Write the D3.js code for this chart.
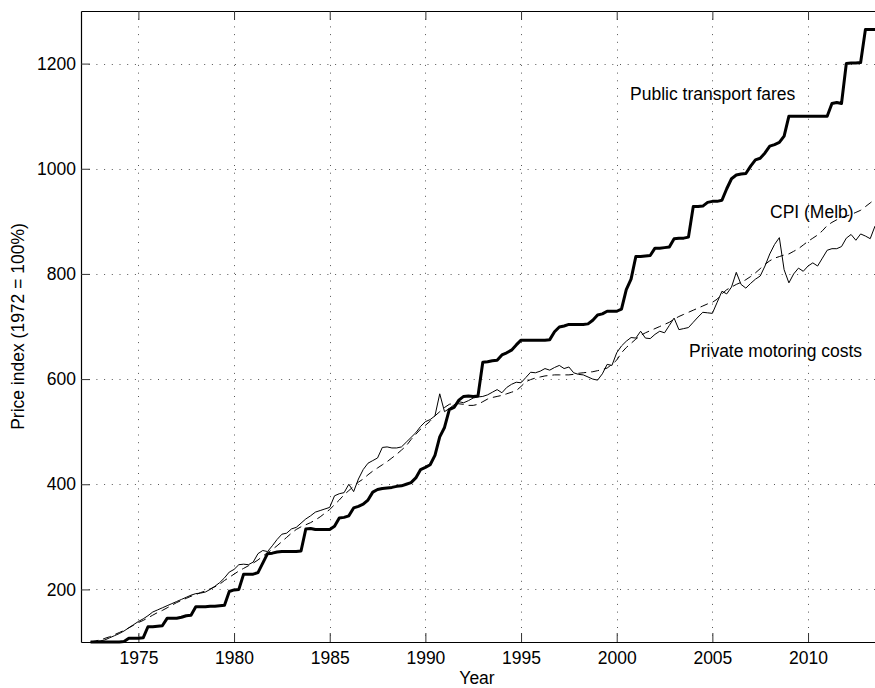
<!DOCTYPE html>
<html>
<head>
<meta charset="utf-8">
<script src="https://cdn.jsdelivr.net/npm/d3@7"></script>
<style>
  body { margin: 0; background: #fff; }
  text { font-family: "Liberation Sans", Arial, Helvetica, sans-serif; }
</style>
</head>
<body>
<div id="chart"></div>
<script>
// quarterly index values, 1972 = 100, from 1972.50 to 2013.50
var startYear = 1972.5;
var quarters = d3.range(0, 165).map(i => startYear + i * 0.25);

var publicFares = [
  100, 100,
  100, 100, 100, 100,
  100, 101, 107, 107,
  107, 108, 129, 129,
  130, 131, 145, 145,
  145, 147, 150, 151,
  167, 167, 167, 168,
  168, 169, 170, 196,
  199, 200, 229, 229,
  229, 232, 250, 268,
  269, 271, 272, 272,
  272, 272, 273, 315,
  316, 314, 314, 314,
  314, 320, 336, 337,
  340, 355, 358, 362,
  370, 385, 390, 392,
  393, 394, 396, 397,
  400, 403, 412, 428,
  432, 437, 455, 490,
  508, 542, 546, 560,
  567, 568, 567, 568,
  632, 633, 635, 636,
  646, 650, 655, 665,
  674, 674, 674, 674,
  674, 674, 675, 690,
  699, 701, 704, 704,
  704, 704, 705, 712,
  722, 724, 729, 729,
  729, 733, 770, 790,
  833, 833, 834, 835,
  849, 849, 850, 851,
  867, 868, 868, 870,
  928, 928, 929, 936,
  938, 938, 940, 962,
  981, 988, 990, 991,
  1005, 1017, 1020, 1030,
  1043, 1046, 1050, 1062,
  1100, 1100, 1100, 1100,
  1100, 1100, 1100, 1100,
  1100, 1124, 1126, 1124,
  1200, 1201, 1201, 1202,
  1265, 1265, 1265
];

var cpiMelb = [
  100, 102,
  104, 107, 110, 114,
  118, 122, 127, 132,
  137, 141, 146, 151,
  156, 160, 165, 170,
  175, 179, 183, 187,
  190, 194, 197, 201,
  205, 210, 217, 223,
  229, 235, 240, 245,
  250, 256, 263, 270,
  276, 283, 291, 299,
  307, 314, 319, 323,
  327, 332, 338, 345,
  352, 361, 370, 380,
  388, 396, 404, 410,
  418, 425, 431, 437,
  443, 450, 457, 465,
  473, 485, 495, 505,
  512, 520, 530, 538,
  546, 552, 554, 553,
  552, 550, 550, 552,
  557, 562, 565, 567,
  569, 572, 575, 578,
  586, 595, 599, 602,
  604, 606, 607, 608,
  608, 608, 608, 609,
  611, 612, 613, 614,
  616, 618, 621, 628,
  636, 650, 660, 668,
  676, 683, 688, 692,
  696, 700, 704, 708,
  714, 719, 723, 727,
  731, 735, 739, 743,
  746, 752, 762, 770,
  775, 780, 784, 789,
  795, 802, 810, 818,
  825, 830, 833, 836,
  838, 843, 848, 855,
  862, 868, 874, 882,
  892, 898, 903, 907,
  910, 913, 917, 921,
  928, 935, 942
];

var privateMotoring = [
  100, 101,
  102, 104, 108, 112,
  116, 121, 127, 133,
  139, 144, 150, 157,
  161, 165, 169, 173,
  177, 181, 185, 189,
  192, 193, 195, 200,
  206, 213, 222, 233,
  238, 247, 248, 247,
  252, 268, 274, 272,
  283, 295, 305, 307,
  315, 318, 326, 334,
  340, 347, 350, 353,
  356, 378, 382, 384,
  400, 386, 410, 428,
  440, 445, 450, 470,
  471, 469, 469, 471,
  480, 489, 498, 510,
  519, 523, 530, 572,
  538, 544, 551, 557,
  555, 559, 564, 566,
  567, 570, 575, 580,
  574, 584, 590, 594,
  593, 603, 613, 612,
  615, 620, 617, 622,
  626, 620, 623, 612,
  609, 608, 604, 600,
  598, 610, 628, 626,
  650, 663, 672, 679,
  678, 691, 678, 677,
  685, 691, 688, 702,
  716, 694, 696, 698,
  708, 718, 727, 726,
  725, 746, 767, 762,
  775, 803, 780, 773,
  782, 790, 796, 815,
  838, 856, 869, 808,
  783, 800, 811, 805,
  815, 821, 815, 830,
  845, 848, 848, 852,
  868, 875, 864, 876,
  872, 867, 891
];

var xTicks = [1975, 1980, 1985, 1990, 1995, 2000, 2005, 2010];
var yTicks = [200, 400, 600, 800, 1000, 1200];

var svgWidth = 875;
var svgHeight = 688;

var margin = { top: 11, right: 0, bottom: 46, left: 81 };
var width = svgWidth - margin.left - margin.right;
var height = svgHeight - margin.top - margin.bottom;

var svg = d3.select("#chart")
  .append("svg")
  .attr("width", svgWidth)
  .attr("height", svgHeight);

var chartGroup = svg.append("g")
  .attr("transform", `translate(${margin.left}, ${margin.top})`);

var xScale = d3.scaleLinear()
  .domain([1972, 2013.5])
  .range([0, width]);

var yScale = d3.scaleLinear()
  .domain([100, 1300])
  .range([height, 0]);

// dotted grid
chartGroup.append("g")
  .selectAll("line")
  .data(xTicks)
  .enter()
  .append("line")
  .attr("x1", d => Math.round(xScale(d)) + 0.5)
  .attr("x2", d => Math.round(xScale(d)) + 0.5)
  .attr("y1", 0)
  .attr("y2", height)
  .attr("stroke", "#555")
  .attr("stroke-dasharray", "1,6.7");

chartGroup.append("g")
  .selectAll("line")
  .data(yTicks)
  .enter()
  .append("line")
  .attr("x1", 0)
  .attr("x2", width)
  .attr("y1", d => Math.round(yScale(d)) + 0.5)
  .attr("y2", d => Math.round(yScale(d)) + 0.5)
  .attr("stroke", "#555")
  .attr("stroke-dasharray", "1,6.7");

// axes, ticks pointing inwards like matlab
var bottomAxis = d3.axisBottom(xScale)
  .tickValues(xTicks)
  .tickFormat(d3.format("d"))
  .tickSizeInner(-9)
  .tickSizeOuter(0)
  .tickPadding(10);

var leftAxis = d3.axisLeft(yScale)
  .tickValues(yTicks)
  .tickFormat(d3.format("d"))
  .tickSizeInner(-9)
  .tickSizeOuter(0)
  .tickPadding(5);

var topAxis = d3.axisTop(xScale)
  .tickValues(xTicks)
  .tickFormat("")
  .tickSizeInner(-9)
  .tickSizeOuter(0);

var xAxis = chartGroup.append("g")
  .attr("transform", `translate(0, ${height})`)
  .call(bottomAxis);

var yAxis = chartGroup.append("g")
  .call(leftAxis);

var tAxis = chartGroup.append("g")
  .call(topAxis);

[xAxis, yAxis, tAxis].forEach(function(ax) {
  ax.select(".domain").attr("stroke", "#000").attr("stroke-width", 1.2);
  ax.selectAll(".tick line").attr("stroke", "#333");
  ax.selectAll("text")
    .attr("fill", "#000")
    .style("font-size", "17.5px")
    .style("font-family", "'Liberation Sans', Arial, sans-serif");
});

// data lines
var line = d3.line()
  .x((d, i) => xScale(quarters[i]))
  .y(d => yScale(d));

chartGroup.append("path")
  .datum(cpiMelb)
  .attr("fill", "none")
  .attr("stroke", "#000")
  .attr("stroke-width", 1)
  .attr("stroke-dasharray", "8,5")
  .attr("d", line);

chartGroup.append("path")
  .datum(privateMotoring)
  .attr("fill", "none")
  .attr("stroke", "#000")
  .attr("stroke-width", 1)
  .attr("d", line);

chartGroup.append("path")
  .datum(publicFares)
  .attr("fill", "none")
  .attr("stroke", "#000")
  .attr("stroke-width", 3)
  .attr("stroke-linejoin", "round")
  .attr("d", line);

// series labels
chartGroup.append("text")
  .attr("x", 630 - margin.left)
  .attr("y", 100 - margin.top)
  .style("font-size", "17.5px")
  .text("Public transport fares");

chartGroup.append("text")
  .attr("x", 770 - margin.left)
  .attr("y", 218 - margin.top)
  .style("font-size", "17.5px")
  .text("CPI (Melb)");

chartGroup.append("text")
  .attr("x", 689 - margin.left)
  .attr("y", 357 - margin.top)
  .style("font-size", "17.5px")
  .text("Private motoring costs");

// axis titles
chartGroup.append("text")
  .attr("x", 477 - margin.left)
  .attr("y", 684 - margin.top)
  .attr("text-anchor", "middle")
  .style("font-size", "17.5px")
  .text("Year");

chartGroup.append("text")
  .attr("transform", "rotate(-90)")
  .attr("x", 0 - (height / 2))
  .attr("y", 24 - margin.left)
  .attr("text-anchor", "middle")
  .style("font-size", "17.5px")
  .text("Price index (1972 = 100%)");
</script>
</body>
</html>
